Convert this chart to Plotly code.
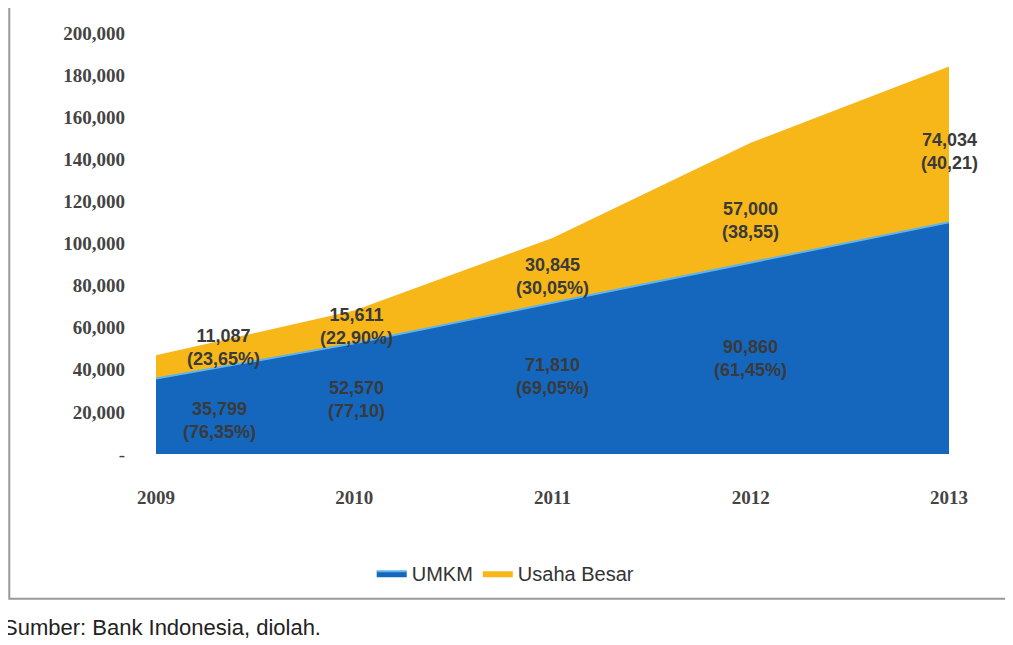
import plotly.graph_objects as go

years = [2009, 2010, 2011, 2012, 2013]
umkm = [35799, 52570, 71810, 90860, 110086]
usaha_besar = [11087, 15611, 30845, 57000, 74034]
umkm_pct = ["(76,35%)", "(77,10)", "(69,05%)", "(61,45%)", "(59,71%)"]
besar_pct = ["(23,65%)", "(22,90%)", "(30,05%)", "(38,55)", "(40,21)"]
y_ticks = [0, 20000, 40000, 60000, 80000, 100000, 120000, 140000, 160000, 180000, 200000]
y_tick_text = ["-"] + [f"<b>{v:,}</b>" for v in y_ticks[1:]]

fig = go.Figure()
fig.add_scatter(x=years, y=umkm, name="UMKM", stackgroup="a", mode="lines",
                line=dict(color="#5fb4ec", width=2), fillcolor="#1467bd")
fig.add_scatter(x=years, y=usaha_besar, name="Usaha Besar", stackgroup="a", mode="lines",
                line=dict(color="#f7b718", width=0), fillcolor="#f7b718")

# label positions (x, y) for each year: UMKM then Usaha Besar
umkm_pos = [(2009.32, 15700), (2010.01, 26100), (2011.0, 37000), (2012.0, 45600), (2013.04, 56000)]
besar_pos = [(2009.34, 50800), (2010.01, 60800), (2011.0, 84500), (2012.0, 110700), (2013.0, 143900)]
lab_font = dict(family="Liberation Sans Narrow, Liberation Sans", size=18, color="#3a3a3a")
for i in range(len(years)):
    fig.add_annotation(x=umkm_pos[i][0], y=umkm_pos[i][1], text=f"<b>{umkm[i]:,}<br>{umkm_pct[i]}</b>",
                       showarrow=False, font=lab_font)
    fig.add_annotation(x=besar_pos[i][0], y=besar_pos[i][1], text=f"<b>{usaha_besar[i]:,}<br>{besar_pct[i]}</b>",
                       showarrow=False, font=lab_font)

fig.add_annotation(xref="paper", yref="paper", x=-0.195, y=-0.413, xanchor="left", yanchor="middle",
                   text="Sumber: Bank Indonesia, diolah.", showarrow=False,
                   font=dict(family="Liberation Sans", size=22, color="#222"))
fig.add_shape(type="rect", xref="paper", yref="paper", x0=-0.185, x1=1.072, y0=-0.344, y1=1.064,
              line=dict(color="#999", width=2))

fig.update_layout(
    width=1013, height=645, margin=dict(l=148, r=72, t=25, b=199),
    paper_bgcolor="white", plot_bgcolor="white", showlegend=True,
    legend=dict(orientation="h", traceorder="normal", x=0.441, y=-0.283, xanchor="center", yanchor="middle",
                font=dict(family="Liberation Sans Narrow, Liberation Sans", size=20, color="#333")),
    font=dict(family="Liberation Serif", size=18, color="#444"),
)
fig.update_xaxes(range=[2009, 2013], tickvals=years, ticktext=[f"<b>{y}</b>" for y in years],
                 showgrid=False, zeroline=False, showline=False, ticks="", ticklabelstandoff=30,
                 tickfont=dict(size=19))
fig.update_yaxes(range=[0, 200000], tickvals=y_ticks, ticktext=y_tick_text, showgrid=False,
                 zeroline=False, showline=False, ticks="", ticklabelstandoff=30,
                 tickfont=dict(size=19))
fig.write_html("out.html")
